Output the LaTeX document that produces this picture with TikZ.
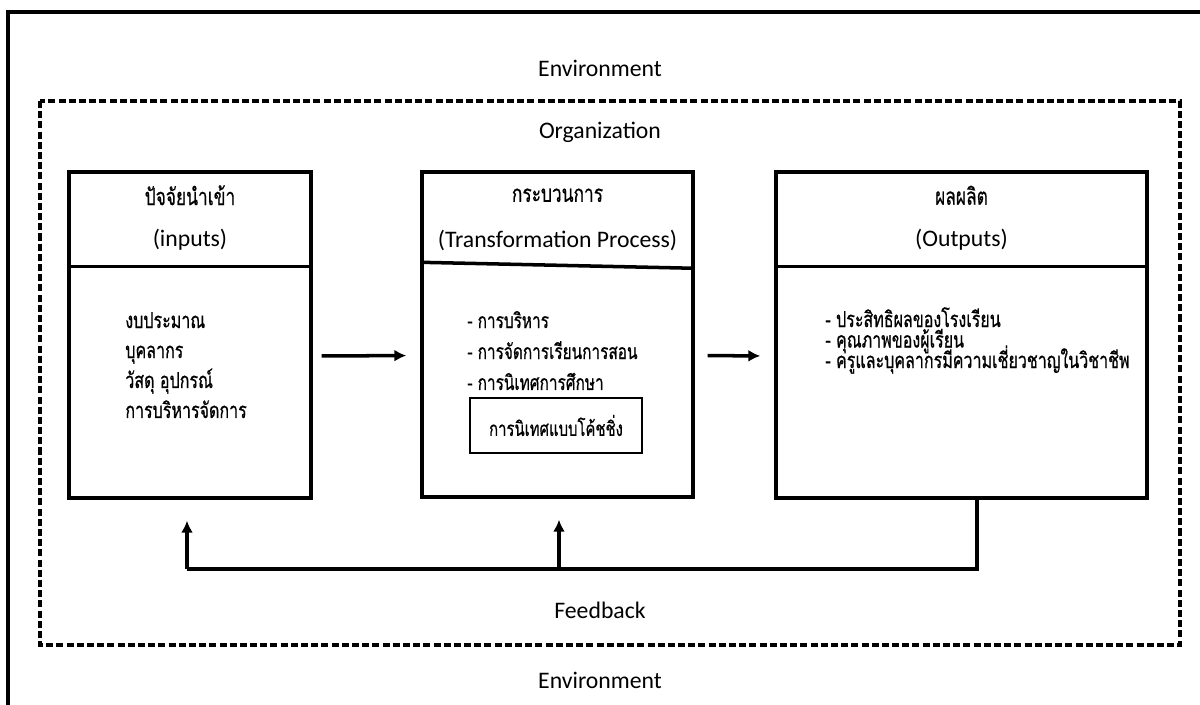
\documentclass[tikz,border=0pt]{standalone}
\usepackage{fontspec}
\setmainfont{Carlito}
\newfontfamily\thaifont[Script=Thai, FakeStretch=0.73, FakeBold=0.6]{Loma}
\usetikzlibrary{positioning,arrows.meta,calc}
\tikzset{
  frame/.style={draw=black, line width=2.2pt},
  org/.style={draw=black, line width=1.8pt, dash pattern=on 4pt off 1.8pt},
  title/.style={font=\fontsize{13.5}{16}\selectfont},
  box/.style={rectangle, draw=black, line width=2pt, inner sep=0pt},
  divider/.style={line width=2pt},
  headth/.style={font=\thaifont\fontsize{13.5}{16}\selectfont},
  headen/.style={font=\fontsize{13.5}{16}\selectfont},
  item/.style={font=\thaifont\fontsize{12.5}{15}\selectfont, inner sep=0pt},
  pitem/.style={font=\thaifont\fontsize{12}{14}\selectfont, inner sep=0pt},
  coach/.style={rectangle, draw=black, line width=1.3pt, minimum width=3.44cm, minimum height=1.1cm, font=\thaifont\fontsize{11.6}{14}\selectfont},
  connect/.style={-{Latex[length=0.24cm, width=0.24cm]}, line width=2pt},
  line/.style={line width=2pt}
}
\begin{document}
\begin{tikzpicture}[x=0.02cm, y=-0.02cm]
    \useasboundingbox (0,0) rectangle (1200,704);
    \draw[frame] (8,12) rectangle (1240,750);
    \draw[org] (40,101) rectangle (1180,645);

    \node[title] (EnvTop) at (600,68) {Environment};
    \node[title] (Org) at (600,132) {Organization};
    \node[title] (Feedback) at (600,610) {Feedback};
    \node[title] (EnvBot) at (600,680) {Environment};

    % the three boxes
    \node[box, minimum width=4.84cm, minimum height=6.52cm] (In) at (190,335) {};
    \node[box, minimum width=5.42cm, minimum height=6.5cm] (Proc) at (557.5,334.5) {};
    \node[box, minimum width=7.42cm, minimum height=6.52cm] (Out) at (961.5,335) {};

    \draw[divider] ($(In.north west)+(0,96)$) -- ($(In.north east)+(0,96)$);
    \draw[divider] ($(Proc.north west)+(0,92)$) -- ($(Proc.north east)+(0,98)$);
    \draw[divider] ($(Out.north west)+(0,96)$) -- ($(Out.north east)+(0,96)$);

    \node[headth] (InTh) at ($(In.north)+(0,25)$) {ปัจจัยนำเข้า};
    \node[headen] (InEn) at ($(In.north)+(0,69)$) {(inputs)};
    \node[headth] (ProcTh) at ($(Proc.north)+(0,25)$) {กระบวนการ};
    \node[headen] (ProcEn) at ($(Proc.north)+(0,70)$) {(Transformation Process)};
    \node[headth] (OutTh) at ($(Out.north)+(0,25)$) {ผลผลิต};
    \node[headen] (OutEn) at ($(Out.north)+(0,69)$) {(Outputs)};

    % inputs
    \node[item, anchor=base west] (In1) at (125,328) {งบประมาณ};
    \node[item] (In2) [below=0.6cm of In1.base west, anchor=base west] {บุคลากร};
    \node[item] (In3) [below=0.6cm of In2.base west, anchor=base west] {วัสดุ อุปกรณ์};
    \node[item] (In4) [below=0.6cm of In3.base west, anchor=base west] {การบริหารจัดการ};

    % process
    \node[pitem, anchor=base west] (P1) at (467,328) {- การบริหาร};
    \node[pitem] (P2) [below=0.62cm of P1.base west, anchor=base west] {- การจัดการเรียนการสอน};
    \node[pitem] (P3) [below=0.62cm of P2.base west, anchor=base west] {- การนิเทศการศึกษา};
    \node[coach] (Coach) at (556,425.5) {การนิเทศแบบโค้ชชิ่ง};

    % outputs
    \node[item, anchor=base west] (O1) at (825,327) {- ประสิทธิผลของโรงเรียน};
    \node[item] (O2) [below=0.41cm of O1.base west, anchor=base west] {- คุณภาพของผู้เรียน};
    \node[item] (O3) [below=0.41cm of O2.base west, anchor=base west] {- ครูและบุคลากรมีความเชี่ยวชาญในวิชาชีพ};

    \path ([yshift=-0.42cm]In.east) edge [connect, shorten <=0.18cm, shorten >=0.28cm] ([yshift=-0.42cm]Proc.west)
          ([yshift=-0.42cm]Proc.east) edge [connect, shorten <=0.26cm, shorten >=0.28cm] ([yshift=-0.42cm]Out.west);

    % feedback loop
    \coordinate (FbR) at (977,569);
    \coordinate (FbM) at (559,569);
    \coordinate (FbL) at (187,569);
    \draw[line] (Out.south -| FbR) -- (FbR) -- (FbL);
    \path (FbL) edge [connect, shorten >=0.42cm] (In.south -| FbL)
          (FbM) edge [connect, shorten >=0.42cm] (Proc.south -| FbM);
\end{tikzpicture}
\end{document}
